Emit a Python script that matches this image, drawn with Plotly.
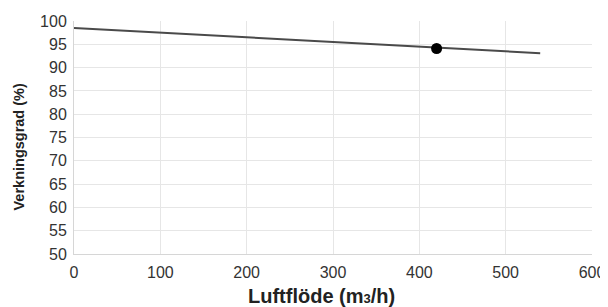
import plotly.graph_objects as go

flow = [0, 100, 200, 300, 400, 500, 540]
efficiency = [98.5, 97.5, 96.6, 95.6, 94.5, 93.6, 93.1]
point_flow = [420]
point_eff = [94.1]

x_title = "Luftflöde (m<span style='font-size:13px'>3</span>/h)"
y_title = "Verkningsgrad (%)"

FONT = "Liberation Sans, Arial, sans-serif"

fig = go.Figure()
fig.add_trace(go.Scatter(x=flow, y=efficiency, mode="lines",
                         line=dict(color="#4a4a4a", width=2), showlegend=False))
fig.add_trace(go.Scatter(x=point_flow, y=point_eff, mode="markers",
                         marker=dict(color="#000000", size=11), showlegend=False))

grid = "#e6e6e6"
# page body adds an 8px offset, so the figure is 8px smaller on each side
fig.update_layout(
    width=600, height=299,
    margin=dict(l=66, r=16, t=13, b=53),
    paper_bgcolor="white", plot_bgcolor="white",
    font=dict(family=FONT, color="#333333"),
    xaxis=dict(range=[0, 600], dtick=100, showgrid=True, gridcolor=grid,
               zeroline=False, showline=True, linecolor="#d6d6d6",
               ticks="outside", ticklen=4, tickcolor="rgba(0,0,0,0)",
               tickfont=dict(size=16, color="#333333"), automargin=False),
    yaxis=dict(range=[50, 100], dtick=5, showgrid=True, gridcolor=grid,
               zeroline=False, showline=True, linecolor="#d6d6d6",
               ticks="outside", ticklen=3, tickcolor="rgba(0,0,0,0)",
               tickfont=dict(size=16, color="#333333"), automargin=False),
    annotations=[
        dict(text=x_title, xref="paper", yref="paper", x=0.5, y=0,
             xanchor="center", yanchor="middle", yshift=-42, xshift=-12,
             showarrow=False,
             font=dict(size=20, color="#222222", family=FONT, weight="bold")),
        dict(text=y_title, xref="paper", yref="paper", x=0, y=0.5,
             xanchor="center", yanchor="middle", xshift=-56, yshift=-10,
             textangle=-90, showarrow=False,
             font=dict(size=14.5, color="#222222", family=FONT, weight="bold")),
    ],
)
fig.write_html("out.html")
